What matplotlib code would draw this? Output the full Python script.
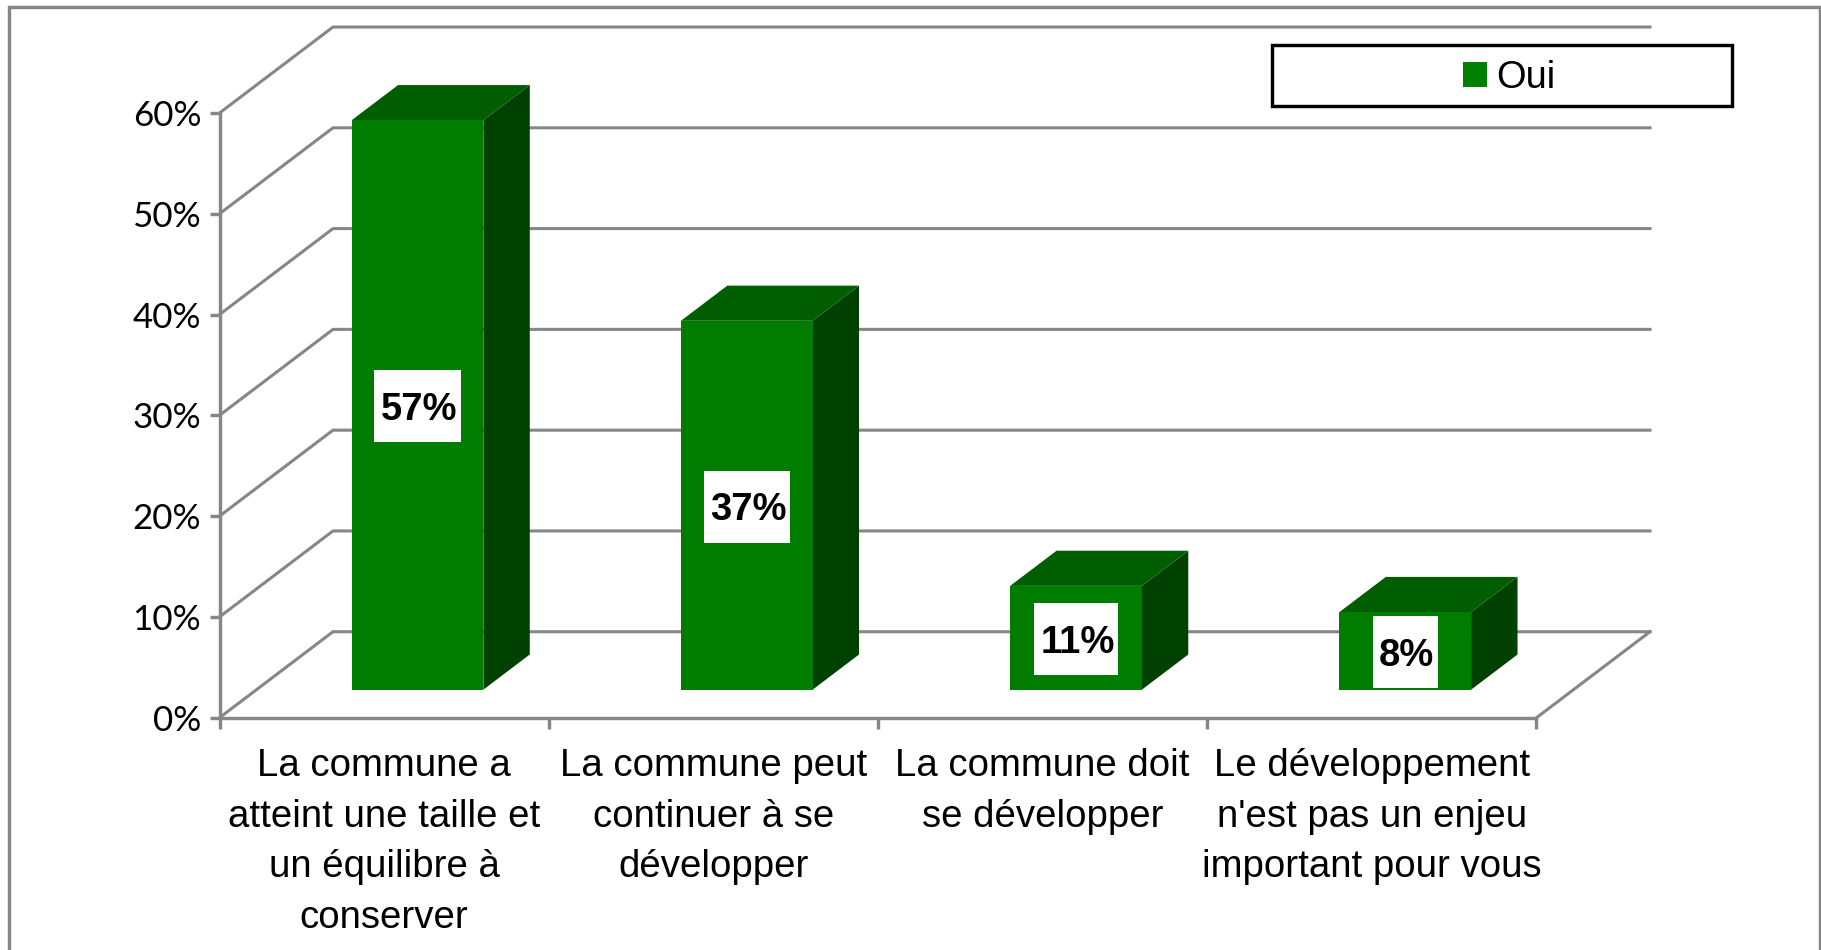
# -*- coding: utf-8 -*-
## IMPORTS ##
import matplotlib
matplotlib.use("Agg")
import matplotlib.pyplot as plt
from matplotlib.patches import Polygon, Rectangle
from matplotlib.transforms import IdentityTransform

## DATA ##
categories = ["La commune a\natteint une taille et\nun équilibre à\nconserver",
              "La commune peut\ncontinuer à se\ndévelopper",
              "La commune doit\nse développer",
              "Le développement\nn'est pas un enjeu\nimportant pour vous"]
bar_heights = [56.5, 36.6, 10.3, 7.7]
value_labels = ["57%", "37%", "11%", "8%"]
y_ticks = [0, 10, 20, 30, 40, 50, 60]
y_tick_labels = ["0%", "10%", "20%", "30%", "40%", "50%", "60%"]
series_name = "Oui"

## STYLE ##
W, H = 1821, 950
GREY = "#868686"
FRONT = "#007D00"
TOP = "#005E00"
SIDE = "#004000"
LW = 3.4 * 72 / 100  # px to points

# depth of the fake 3D box, in data units (categories, percent)
DX = 0.3447
DY = 8.53
BAR_LEFT = 0.289
BAR_W = 0.40
D0, D1 = 0.326, 0.735  # front and back of the bars, as part of the depth


def box(x0, y0, x1, y1):
    """Pixel box (y from the top) to figure fractions [l, b, w, h]."""
    return [x0 / W, 1 - y1 / H, (x1 - x0) / W, (y1 - y0) / H]


def proj(x, y, d):
    """Data position pushed back by depth d."""
    return (x + d * DX, y + d * DY)


fig = plt.figure(figsize=(W / 100, H / 100), dpi=100, facecolor="white")
ax = fig.add_axes(box(219.5, 113, 1536.5, 717.7))
ax.set_facecolor("none")
ax.set_xlim(0, len(categories))
ax.set_ylim(0, 60)

# outer frame, its bottom edge is cut off by the picture
l, b, w, h = box(9, 7, 1820, 970)
fig.add_artist(Rectangle((l, b), w, h, transform=fig.transFigure, fill=False,
                         edgecolor=GREY, linewidth=LW))

# WALLS #
for v in y_ticks:
    xs, ys = zip(proj(0, v, 0), proj(0, v, 1), proj(len(categories), v, 1))
    ax.plot(xs, ys, color=GREY, lw=LW * 0.9, clip_on=False, zorder=1,
            solid_joinstyle="miter")
xs, ys = zip(proj(len(categories), 0, 0), proj(len(categories), 0, 1))
ax.plot(xs, ys, color=GREY, lw=LW * 0.9, clip_on=False, zorder=1)

# BARS #
renderer = fig.canvas.get_renderer()
for i, v in enumerate(bar_heights):
    x0 = i + BAR_LEFT
    x1 = x0 + BAR_W
    front = [proj(x0, 0, D0), proj(x1, 0, D0), proj(x1, v, D0), proj(x0, v, D0)]
    side = [proj(x1, 0, D0), proj(x1, 0, D1), proj(x1, v, D1), proj(x1, v, D0)]
    top = [proj(x0, v, D0), proj(x1, v, D0), proj(x1, v, D1), proj(x0, v, D1)]
    ax.add_patch(Polygon(side, facecolor=SIDE, edgecolor="none", clip_on=False, zorder=3))
    ax.add_patch(Polygon(top, facecolor=TOP, edgecolor="none", clip_on=False, zorder=3))
    ax.add_patch(Polygon(front, facecolor=FRONT, edgecolor="none", clip_on=False, zorder=4))

    # data label with a white box around it, 72 px tall
    cx, cy = proj(x0 + BAR_W / 2, v / 2, D0)
    t = ax.annotate(value_labels[i], xy=(cx, cy), xytext=(1, -3.5), textcoords="offset points",
                    ha="center", va="center", fontsize=27.5, fontweight="bold",
                    family="Liberation Sans", color="black", zorder=6)
    ext = t.get_window_extent(renderer)
    bw = ext.width + 10
    mid = ax.transData.transform((cx, cy))
    ax.add_patch(Rectangle((mid[0] - bw / 2, mid[1] - 37.5), bw, 72, transform=IdentityTransform(),
                           facecolor="white", edgecolor="none", clip_on=False, zorder=5))

# AXES #
for s in ["top", "right"]:
    ax.spines[s].set_visible(False)
for s in ["left", "bottom"]:
    ax.spines[s].set_color(GREY)
    ax.spines[s].set_linewidth(LW)
ax.set_yticks(y_ticks)
ax.set_yticklabels(y_tick_labels, fontsize=25.2, family="Lato", color="black")
ax.tick_params(axis="y", length=7.2, width=LW, color=GREY, pad=6)
ax.set_xticks(range(len(categories) + 1))
ax.set_xticklabels([])
ax.set_xticks([i + 0.5 for i in range(len(categories))], minor=True)
ax.set_xticklabels(categories, minor=True, fontsize=27.6, family="Liberation Sans",
                   color="black", linespacing=1.52)
ax.tick_params(axis="x", which="major", length=7.7, width=LW, color=GREY)
ax.tick_params(axis="x", which="minor", length=0, pad=22)

# LEGEND #
l, b, w, h = box(1272, 45, 1732, 106)
fig.add_artist(Rectangle((l, b), w, h, transform=fig.transFigure, facecolor="white",
                         edgecolor="black", linewidth=LW, zorder=7))
swatch = Rectangle((0, 0), 1, 1, facecolor="#008000", edgecolor="none")
lx, ly, lw_, lh = box(1279, 47, 1739, 108)
leg = fig.legend([swatch], [series_name], loc="center", bbox_to_anchor=(lx, ly, lw_, lh),
                 frameon=False, handlelength=0.63, handleheight=0.63, handletextpad=0.24,
                 prop={"family": "Liberation Sans", "size": 27.4}, borderpad=0, borderaxespad=0)
leg.set_zorder(8)

fig.savefig("out.png", dpi=100)
